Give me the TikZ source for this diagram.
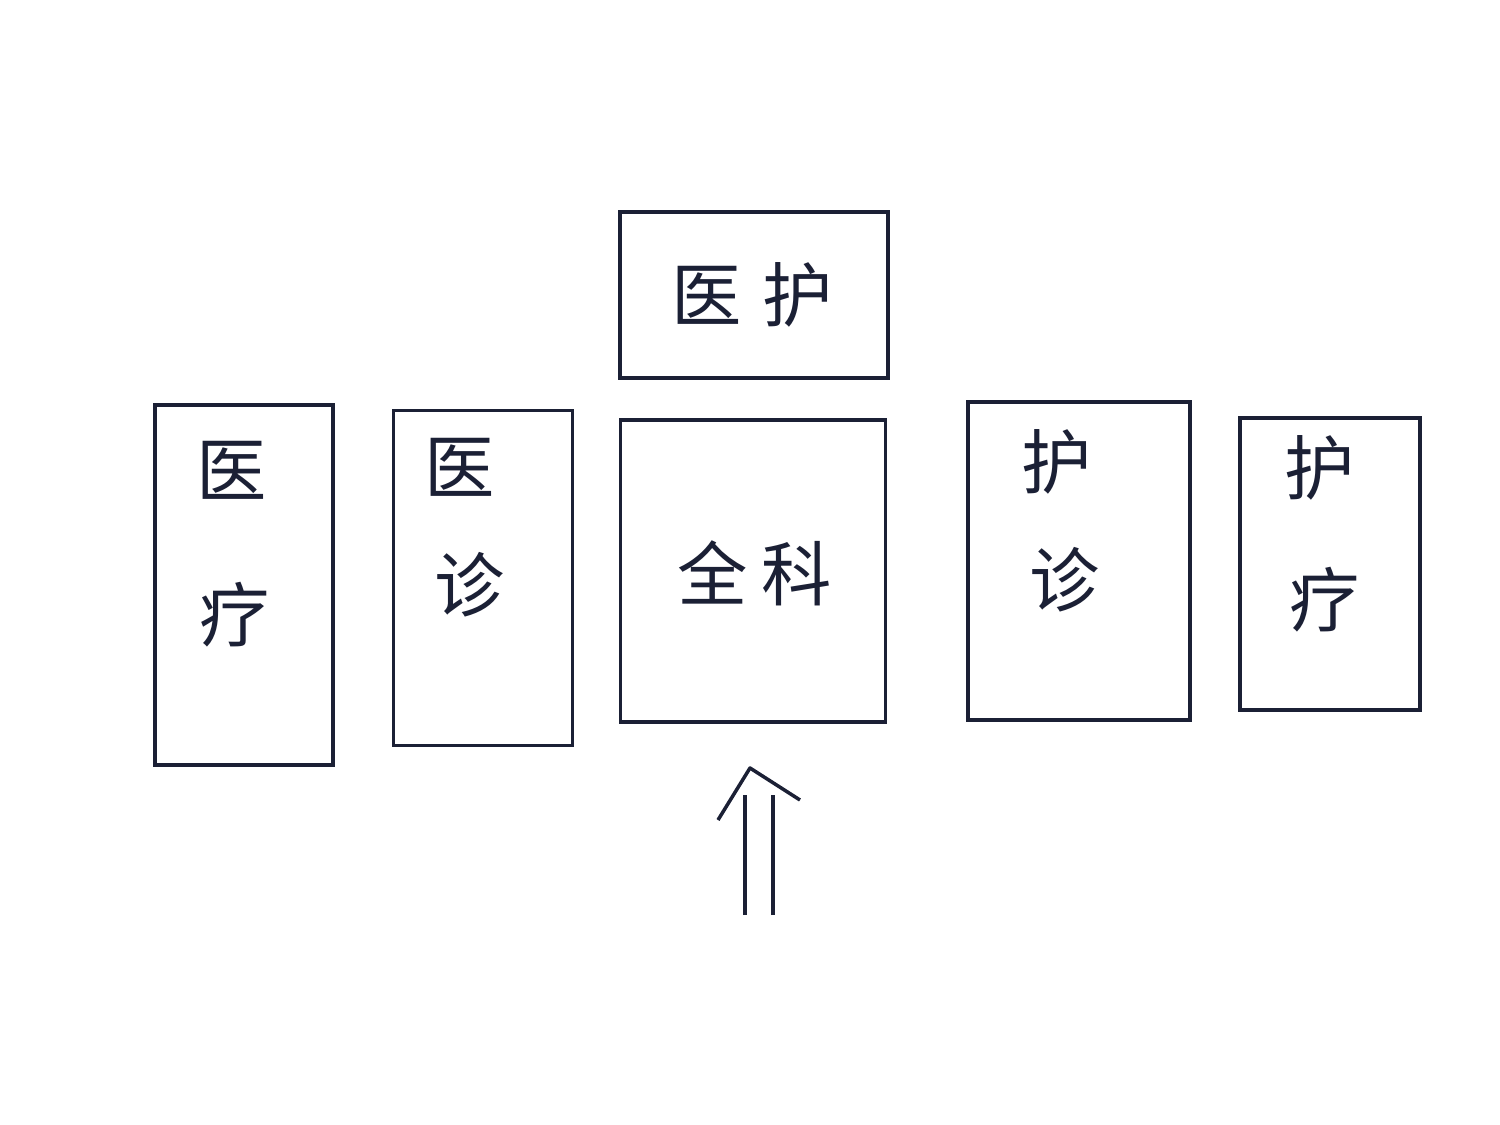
\documentclass[tikz,border=0pt]{standalone}
\usepackage{fontspec}
\newfontfamily\cjk{Noto Sans CJK SC}
\definecolor{ink}{HTML}{1B2035}
\tikzset{
  ward/.style={draw=ink, line width=1pt, inner sep=0pt},
  hanzi/.style={text=ink, font=\cjk\fontsize{20}{24}\selectfont},
}
\begin{document}
\begin{tikzpicture}
            \useasboundingbox (0,0) rectangle (15,-11.25);
            % top box
            \node[ward, minimum width=2.68cm, minimum height=1.66cm] (yihu) at (7.54,-2.95) {};
            \node[hanzi] (yihuT) at (7.52,-2.95) {医\hspace{0.3em}护};
            % row of boxes
            \node[ward, minimum width=1.78cm, minimum height=3.6cm] (yiliao) at (2.44,-5.85) {};
            \node[ward, minimum width=1.79cm, minimum height=3.35cm] (yizhen) at (4.83,-5.78) {};
            \node[ward, minimum width=2.65cm, minimum height=3.02cm] (quanke) at (7.53,-5.71) {};
            \node[ward, minimum width=2.22cm, minimum height=3.18cm] (huzhen) at (10.79,-5.61) {};
            \node[ward, minimum width=1.8cm, minimum height=2.92cm] (huliao) at (13.3,-5.64) {};
            % labels
            \node[hanzi] (yiliaoA) at (2.32,-4.7) {医};
            \node[hanzi] (yiliaoB) at (2.35,-6.15) {疗};
            \node[hanzi] (yizhenA) at (4.6,-4.67) {医};
            \node[hanzi] (yizhenB) at (4.7,-5.85) {诊};
            \node[hanzi] (quankeT) at (7.55,-5.73) {全\hspace{0.2em}科};
            \node[hanzi] (huzhenA) at (10.57,-4.62) {护};
            \node[hanzi] (huzhenB) at (10.65,-5.8) {诊};
            \node[hanzi] (huliaoA) at (13.2,-4.68) {护};
            \node[hanzi] (huliaoB) at (13.25,-6.0) {疗};
            % arrow into the middle box
            \coordinate (footL) at (7.45,-9.15);
            \coordinate (footR) at (7.73,-9.15);
            \coordinate (neckL) at (7.45,-7.95);
            \coordinate (neckR) at (7.73,-7.95);
            \coordinate (tip) at (7.5,-7.68);
            \draw[ink, line width=1pt] (footL) -- (neckL);
            \draw[ink, line width=1pt] (footR) -- (neckR);
            \draw[ink, line width=1pt, line join=round] (7.18,-8.2) -- (tip) -- (8.0,-8.0);
        \end{tikzpicture}
\end{document}
